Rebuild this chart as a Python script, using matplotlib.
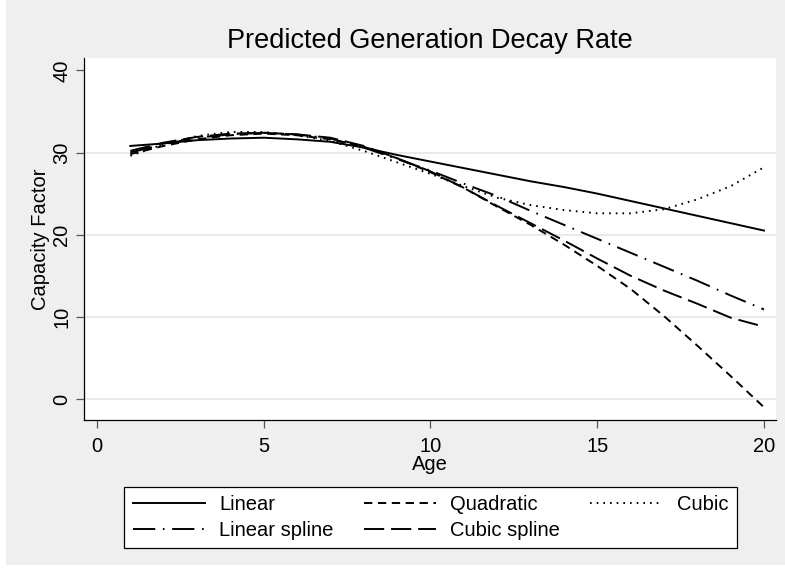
import numpy             as np
import matplotlib.pyplot as plt
from matplotlib.patches import Rectangle

plt.rcParams['font.family']       = ['Liberation Sans', 'DejaVu Sans']
plt.rcParams['lines.scale_dashes'] = False

fontsize   = 14.5
titlesize  = 19.5
linewidth  = 1.4
background = '#efefef'
gridcolor  = '#e3e3e3'

# Predicted capacity factor by plant age
age = [1, 2, 3, 4, 5, 6, 7, 8, 9, 10, 11, 12, 13, 14, 15, 16, 17, 18, 19, 20]

linear       = [30.8, 31.1, 31.5, 31.7, 31.8, 31.6, 31.3, 30.6, 29.7, 28.9,
                28.1, 27.3, 26.5, 25.8, 25.0, 24.1, 23.2, 22.3, 21.4, 20.5]
quadratic    = [29.8, 30.8, 31.6, 32.1, 32.3, 32.1, 31.6, 30.7, 29.3, 27.6,
                25.7, 23.4, 21.2, 18.8, 16.2, 13.4, 10.1,  6.5,  2.8, -1.0]
cubic        = [29.6, 31.0, 32.0, 32.5, 32.5, 32.1, 31.4, 30.2, 28.8, 27.4,
                25.9, 24.5, 23.6, 23.0, 22.6, 22.6, 23.1, 24.3, 25.9, 28.2]
lin_spline   = [30.0, 31.0, 31.8, 32.2, 32.4, 32.2, 31.7, 30.6, 29.2, 27.8,
                26.2, 24.7, 22.9, 21.2, 19.5, 17.8, 16.1, 14.4, 12.6, 10.9]
cub_spline   = [30.2, 31.2, 31.9, 32.3, 32.4, 32.2, 31.8, 30.8, 29.3, 27.7,
                25.7, 23.5, 21.4, 19.3, 17.1, 15.0, 13.2, 11.6,  9.9,  8.8]

x_ticks    = [0, 5, 10, 15, 20]
y_ticks    = [0, 10, 20, 30, 40]
grid_lines = [0, 10, 20, 30]

# Figure with the grey Stata-like frame
fig = plt.figure(figsize=(7.85, 5.73), dpi=100)
fig.patches.append(Rectangle((6 / 785, 8 / 573), 1, 1, transform=fig.transFigure,
                             facecolor=background, edgecolor='none', zorder=-10))

ax = fig.add_axes([84.3 / 785, 1 - 420 / 573, (776 - 84.3) / 785, (420 - 58) / 573])
ax.set_facecolor('white')

for g in grid_lines:
    ax.axhline(g, color=gridcolor, linewidth=1.1, zorder=0)

ax.plot(age, linear,     color='black', linewidth=linewidth, linestyle='-',                        label='Linear')
ax.plot(age, lin_spline, color='black', linewidth=linewidth, linestyle=(0, (16, 5.5, 1.2, 5.5)),   label='Linear spline')
ax.plot(age, quadratic,  color='black', linewidth=linewidth, linestyle=(0, (6, 4)),                label='Quadratic')
ax.plot(age, cub_spline, color='black', linewidth=linewidth, linestyle=(0, (14.5, 5)),             label='Cubic spline')
ax.plot(age, cubic,      color='black', linewidth=linewidth, linestyle=(0, (1.2, 3.6)),            label='Cubic')

ax.set_xlim(-0.38, 20.36)
ax.set_ylim(-2.55, 41.5)
ax.set_xticks(x_ticks)
ax.set_yticks(y_ticks)

for side in ['top', 'right']:
    ax.spines[side].set_visible(False)
for side in ['left', 'bottom']:
    ax.spines[side].set_linewidth(0.9)
    ax.spines[side].set_color('black')

ax.tick_params(axis='both', length=5.5, width=0.9, color='#555555', labelsize=fontsize, pad=4)
ax.tick_params(axis='x', pad=6.5)
plt.setp(ax.get_yticklabels(), rotation=90, va='center')

ax.set_title('Predicted Generation Decay Rate', fontsize=titlesize, pad=7)
ax.set_xlabel('Age',             fontsize=fontsize)
ax.set_ylabel('Capacity Factor', fontsize=fontsize)
ax.xaxis.set_label_coords(0.5, -0.096)
ax.yaxis.set_label_coords(-0.05, 0.5)

leg = fig.legend(loc='center', bbox_to_anchor=(430.5 / 785, 1 - 517.5 / 573), ncol=3,
                 fontsize=fontsize, handlelength=3.6, handletextpad=0.7, columnspacing=1.5,
                 labelspacing=0.35, borderpad=0.4, fancybox=False, framealpha=1)
leg.get_frame().set_edgecolor('black')
leg.get_frame().set_linewidth(0.9)

plt.savefig('out.png', dpi=100)
